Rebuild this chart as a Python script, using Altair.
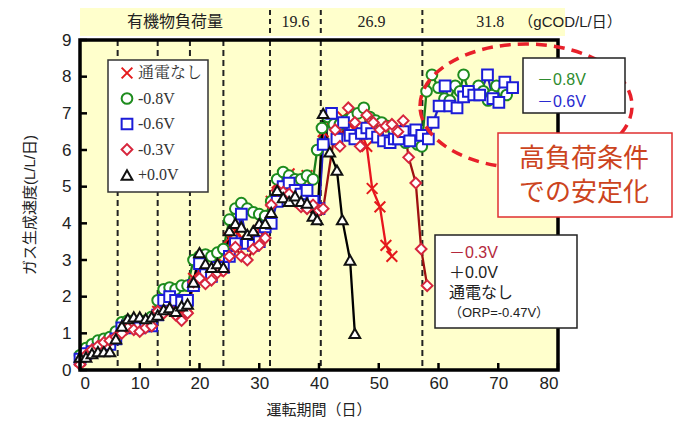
import altair as alt
import pandas as pd

W, H = 478, 330
YEL = "#FFFFCC"

series = ["通電なし", "-0.8V", "-0.6V", "-0.3V", "+0.0V"]
marker_colors = ["#E41A1C", "#1E8C1E", "#1C1CD8", "#D7263D", "#111111"]
line_colors = ["#E8141E", "#1A7F1A", "#2020C8", "#9E1010", "#000000"]
X_PATH = "M-1,-1L1,1M-1,1L1,-1"
shapes = [X_PATH, "circle", "square", "diamond", "triangle-up"]

# ---- data ----
days_none = list(range(0, 41)) + [40.7, 42, 43, 44, 45, 46, 47, 48, 48.9, 50.2, 51.2, 52.2]
vals_none = [0.25, 0.4, 0.5, 0.6, 0.7, 0.75, 0.9, 1.1, 1.2, 1.2, 1.15, 1.2, 1.3,
             1.6, 1.8, 1.8, 1.7, 1.6, 1.7, 2.5, 2.7, 2.6, 2.6, 2.7, 2.9,
             3.6, 3.8, 3.6, 3.5, 3.6, 3.8, 3.9, 4.6, 5.1, 5.0, 5.35, 4.9, 4.9, 5.3, 4.6, 4.4,
             6.5, 6.8, 6.6, 6.9, 6.7, 6.6, 6.5, 6.1, 4.95, 4.45, 3.4, 3.1]

days_m08 = list(range(0, 40)) + [39.7, 40.5, 41.5, 42.5, 43.5, 44.5, 45.5, 46.5, 47.5, 48.5,
                                 49.5, 50.5, 51.5, 52.5, 53.5, 54.5, 55.5, 56.5, 57.2, 58, 58.9,
                                 60, 61, 61.9, 62.8, 63.6, 64.2, 65.2, 66, 66.7, 67.5, 68.3, 69,
                                 69.7, 70.9, 71.4]
vals_m08 = [0.4, 0.6, 0.7, 0.8, 0.85, 0.9, 1.05, 1.3, 1.35, 1.3, 1.3, 1.35, 1.45,
            1.9, 2.2, 2.25, 2.2, 2.3, 2.3, 3.0, 3.1, 3.15, 3.1, 3.2, 3.3,
            4.1, 4.4, 4.55, 4.4, 4.3, 4.25, 4.2, 4.6, 5.2, 5.4, 5.3, 5.2, 5.2, 5.3, 5.2,
            6.0, 6.6, 6.9, 6.7, 6.7, 6.8, 6.9, 7.0, 7.15, 6.9,
            6.8, 6.75, 6.65, 6.55, 6.4, 6.2, 6.3, 6.15, 6.1, 7.6, 8.05,
            7.7, 7.4, 7.35, 7.75, 7.6, 8.05, 7.5, 7.6, 7.75, 7.6, 7.35, 7.5,
            7.75, 7.6, 7.5]

days_m06 = list(range(0, 41)) + [40.7, 42.1, 43, 44.1, 45.2, 46, 47.1, 48, 48.8, 49.8, 50.8,
                                 51.9, 52.6, 53.3, 54.1, 55.2, 56.2, 57.2, 58.3, 59.1, 60.1,
                                 61.1, 61.9, 63.1, 64.2, 65, 65.9, 66.9, 68.2, 69.1, 70.1,
                                 71.1, 72.4]
vals_m06 = [0.3, 0.45, 0.5, 0.55, 0.6, 0.7, 0.85, 1.15, 1.2, 1.15, 1.15, 1.2, 1.2,
            1.5, 1.9, 2.0, 1.9, 1.85, 1.9, 2.3, 2.9, 2.6, 2.55, 2.8, 2.8,
            3.1, 3.45, 4.25, 3.45, 3.4, 3.5, 3.9, 4.0, 4.6, 5.0, 5.1, 4.9, 4.8, 4.9, 4.6, 4.4,
            6.15, 7.0, 6.3, 6.75, 6.4, 6.3, 6.45, 6.6, 6.45, 6.35, 6.25,
            6.2, 6.3, 6.3, 6.5, 6.25, 6.55, 6.4, 6.3, 6.75, 7.2,
            7.75, 7.2, 7.15, 7.45, 7.6, 7.5, 7.5, 8.05, 7.4, 7.3,
            7.85, 7.7]

days_m03 = list(range(0, 41)) + [40.7, 42.7, 43.5, 44.9, 46, 46.9, 48, 49.1, 50.2, 51.2,
                                 52.2, 53.2, 54.1, 55, 56.2, 57.1, 58.1]
vals_m03 = [0.15, 0.4, 0.55, 0.65, 0.75, 0.8, 0.9, 1.0, 1.15, 1.1, 1.05, 1.15, 1.2,
            1.6, 1.55, 1.65, 1.5, 1.35, 1.55, 2.4, 2.5, 2.35, 2.45, 2.65, 2.7,
            3.1, 3.35, 3.1, 3.0, 3.3, 3.4, 3.6, 4.5, 4.9, 4.85, 4.8, 4.6, 4.45, 4.4, 4.5, 4.35,
            4.4, 6.55, 6.1, 7.15, 6.75, 6.1, 6.95, 6.75, 6.55, 6.65,
            6.7, 6.5, 6.8, 5.8, 5.1, 3.3, 2.3]

days_p00 = list(range(0, 40)) + [39.7, 40.7, 41.8, 43, 43.9, 45.2, 46]
vals_p00 = [0.35, 0.35, 0.45, 0.5, 0.5, 0.5, 0.85, 1.2, 1.4, 1.45, 1.45, 1.4, 1.45,
            1.5, 1.65, 1.7, 1.6, 1.75, 1.8, 2.4, 3.2, 2.9, 2.8, 2.9, 2.8,
            3.8, 4.0, 3.9, 3.7, 3.8, 4.0, 4.0, 4.3, 4.9, 4.7, 4.6, 4.75, 4.6, 4.55, 4.2,
            4.1, 7.0, 5.95, 5.45, 4.1, 3.0, 1.0]

all_days = [days_none, days_m08, days_m06, days_m03, days_p00]
all_vals = [vals_none, vals_m08, vals_m06, vals_m03, vals_p00]

x_ticks = [0, 10, 20, 30, 40, 50, 60, 70, 80]
y_ticks = [0, 1, 2, 3, 4, 5, 6, 7, 8, 9]
divider_days = [6.3, 13, 18.4, 24, 31.8, 40.3, 57.3]
load_bounds = [0, 31.8, 40.3, 57.3, 80]
load_labels = ["有機物負荷量", "19.6", "26.9", "31.8"]
load_unit = "（gCOD/L/日）"
y_title = "ガス生成速度(L/L/日)"
x_title = "運転期間（日）"
note_top = ["－0.8V", "－0.6V"]
note_top_colors = ["#2E8B2E", "#2A2AD0"]
note_bottom = ["－0.3V", "＋0.0V", "通電なし", "（ORP=-0.47V）"]
note_bottom_colors = ["#B4283C", "#222222", "#222222", "#222222"]
callout = ["高負荷条件", "での安定化"]

rows = []
for name, ds, vs in zip(series, all_days, all_vals):
    for d, v in zip(ds, vs):
        rows.append({"series": name, "day": d, "value": v})
df = pd.DataFrame(rows)

one = pd.DataFrame({"k": [0]})
SANS = "Liberation Sans, Noto Sans CJK JP"
JP = "Noto Sans CJK JP"
SERIF = "Liberation Serif, Noto Serif CJK JP, Noto Sans CJK JP"

x_scale = alt.Scale(domain=[0, 80], nice=False, zero=False)
y_scale = alt.Scale(domain=[0, 9], nice=False, zero=False)

x_axis = alt.Axis(values=x_ticks, title=None, labelFont="Liberation Sans", labelFontSize=17,
                  labelColor="#222", labelPadding=5, ticks=False, domain=False, grid=False)
y_axis = alt.Axis(values=y_ticks, title=None, labelFont="Liberation Sans", labelFontSize=17,
                  labelColor="#222", labelPadding=9, ticks=False, domain=False, grid=False)


def X(field):
    return alt.X(field, scale=x_scale, axis=x_axis)


def Y(field):
    return alt.Y(field, scale=y_scale, axis=y_axis)


# band above plot
band = alt.Chart(one).mark_rect(color=YEL).encode(
    x=alt.value(0), x2=alt.value(W + 7), y=alt.value(-32), y2=alt.value(-4))

mids = [(a + b) / 2 for a, b in zip(load_bounds[:-1], load_bounds[1:])]
band_df = pd.DataFrame({"mid": mids, "label": load_labels})
band_title = alt.Chart(band_df.iloc[:1]).mark_text(font=JP, fontSize=16, color="#222").encode(
    x=X("mid:Q"), y=alt.value(-18), text="label:N")
band_nums = alt.Chart(band_df.iloc[1:]).mark_text(font=SERIF, fontSize=16, color="#222").encode(
    x=X("mid:Q"), y=alt.value(-18), text="label:N")
band_unit = alt.Chart(pd.DataFrame({"t": [load_unit]})).mark_text(
    font=SANS, fontSize=15, color="#222").encode(x=alt.value(490), y=alt.value(-18), text="t:N")
band_div = alt.Chart(pd.DataFrame({"v": load_bounds[1:-1]})).mark_rule(
    color="#222", strokeWidth=2, strokeDash=[5, 4]).encode(
    x=X("v:Q"), y=alt.value(-30), y2=alt.value(-4))

# plot dividers
dividers = alt.Chart(pd.DataFrame({"v": divider_days})).mark_rule(
    color="#222", strokeWidth=2, strokeDash=[6, 4]).encode(
    x=X("v:Q"), y=alt.value(0), y2=alt.value(H))

lines = alt.Chart(df).mark_line(strokeWidth=2.3).encode(
    x=X("day:Q"),
    y=Y("value:Q"),
    stroke=alt.Stroke("series:N", scale=alt.Scale(domain=series, range=line_colors), legend=None),
    detail="series:N",
    order=alt.Order("day:Q"),
)

points = alt.Chart(df).mark_point(filled=False, fill="white", size=115, strokeWidth=2, opacity=1).encode(
    x=X("day:Q"),
    y=Y("value:Q"),
    color=alt.Color("series:N", scale=alt.Scale(domain=series, range=marker_colors), legend=None),
    shape=alt.Shape("series:N", scale=alt.Scale(domain=series, range=shapes), legend=None),
)

frame = alt.Chart(one).mark_rect(fillOpacity=0, stroke="#000", strokeWidth=3.5).encode(
    x=alt.value(0), x2=alt.value(W), y=alt.value(0), y2=alt.value(H))

yt = alt.Chart(pd.DataFrame({"v": y_ticks})).mark_rule(color="#000", strokeWidth=2.5).encode(
    y=Y("v:Q"), x=alt.value(0), x2=alt.value(7))
xt = alt.Chart(pd.DataFrame({"v": x_ticks})).mark_rule(color="#000", strokeWidth=2.5).encode(
    x=X("v:Q"), y=alt.value(H), y2=alt.value(H - 7))

ytitle = alt.Chart(pd.DataFrame({"t": [y_title]})).mark_text(
    font=SANS, fontSize=15, angle=270, color="#222").encode(
    x=alt.value(-50), y=alt.value(165), text="t:N")
xtitle = alt.Chart(pd.DataFrame({"t": [x_title]})).mark_text(
    font=JP, fontSize=15, color="#222").encode(
    x=alt.value(W / 2), y=alt.value(370), text="t:N")

# legend drawn by hand
leg_box = alt.Chart(one).mark_rect(fill="white", stroke="#333", strokeWidth=1.5).encode(
    x=alt.value(28), x2=alt.value(128), y=alt.value(20), y2=alt.value(152))
leg_items = []
for i, (name, col, shp) in enumerate(zip(series, marker_colors, shapes)):
    yy = 33 + 25.5 * i
    leg_items.append(alt.Chart(one).mark_point(
        shape=shp, size=115, strokeWidth=2, filled=False, color=col, opacity=1).encode(
        x=alt.value(47), y=alt.value(yy)))
    leg_items.append(alt.Chart(pd.DataFrame({"t": [name]})).mark_text(
        font=SERIF, fontSize=16, align="left", color="#333").encode(
        x=alt.value(58), y=alt.value(yy), text="t:N"))

ellipse = alt.Chart(one).mark_point(
    shape="M-1,0A1,0.585,0,1,1,1,0A1,0.585,0,1,1,-1,0Z", size=212 * 212, filled=False,
    stroke="#E8202A", strokeWidth=3.5, strokeDash=[11, 7], opacity=1).encode(
    x=alt.value(446), y=alt.value(66))

box_top = alt.Chart(one).mark_rect(fill="white", stroke="#222", strokeWidth=1.5).encode(
    x=alt.value(443), x2=alt.value(545), y=alt.value(18), y2=alt.value(73))
box_top_txt = [
    alt.Chart(pd.DataFrame({"t": [t]})).mark_text(font=SANS, fontSize=16, align="left", color=c).encode(
        x=alt.value(457), y=alt.value(40 + 22 * i), text="t:N")
    for i, (t, c) in enumerate(zip(note_top, note_top_colors))
]

box_red = alt.Chart(one).mark_rect(fill="white", stroke="#E03030", strokeWidth=1.5).encode(
    x=alt.value(418), x2=alt.value(592), y=alt.value(93), y2=alt.value(177))
box_red_txt = [
    alt.Chart(pd.DataFrame({"t": [t]})).mark_text(font=JP, fontSize=26, color="#CC4420").encode(
        x=alt.value(504), y=alt.value(119 + 34 * i), text="t:N")
    for i, t in enumerate(callout)
]

box_bot = alt.Chart(one).mark_rect(fill="white", stroke="#222", strokeWidth=1.5).encode(
    x=alt.value(355), x2=alt.value(497), y=alt.value(195), y2=alt.value(288))
box_bot_txt = [
    alt.Chart(pd.DataFrame({"t": [t]})).mark_text(
        font=SANS, fontSize=(13 if i == 3 else 16), align="left", color=c).encode(
        x=alt.value(369), y=alt.value(213 + 20 * i), text="t:N")
    for i, (t, c) in enumerate(zip(note_bottom, note_bottom_colors))
]

chart = alt.layer(
    band, band_div, band_title, band_nums, band_unit,
    dividers, lines, points, frame, yt, xt, ytitle, xtitle,
    leg_box, *leg_items,
    ellipse, box_top, *box_top_txt, box_red, *box_red_txt, box_bot, *box_bot_txt,
).properties(
    width=W, height=H,
    autosize=alt.AutoSizeParams(type="none"),
    padding={"left": 72, "top": 32, "right": 118, "bottom": 50},
    background="white",
).configure_view(stroke=None, fill=YEL)

chart.save("out.html", embed_options={"renderer": "svg", "actions": False})
